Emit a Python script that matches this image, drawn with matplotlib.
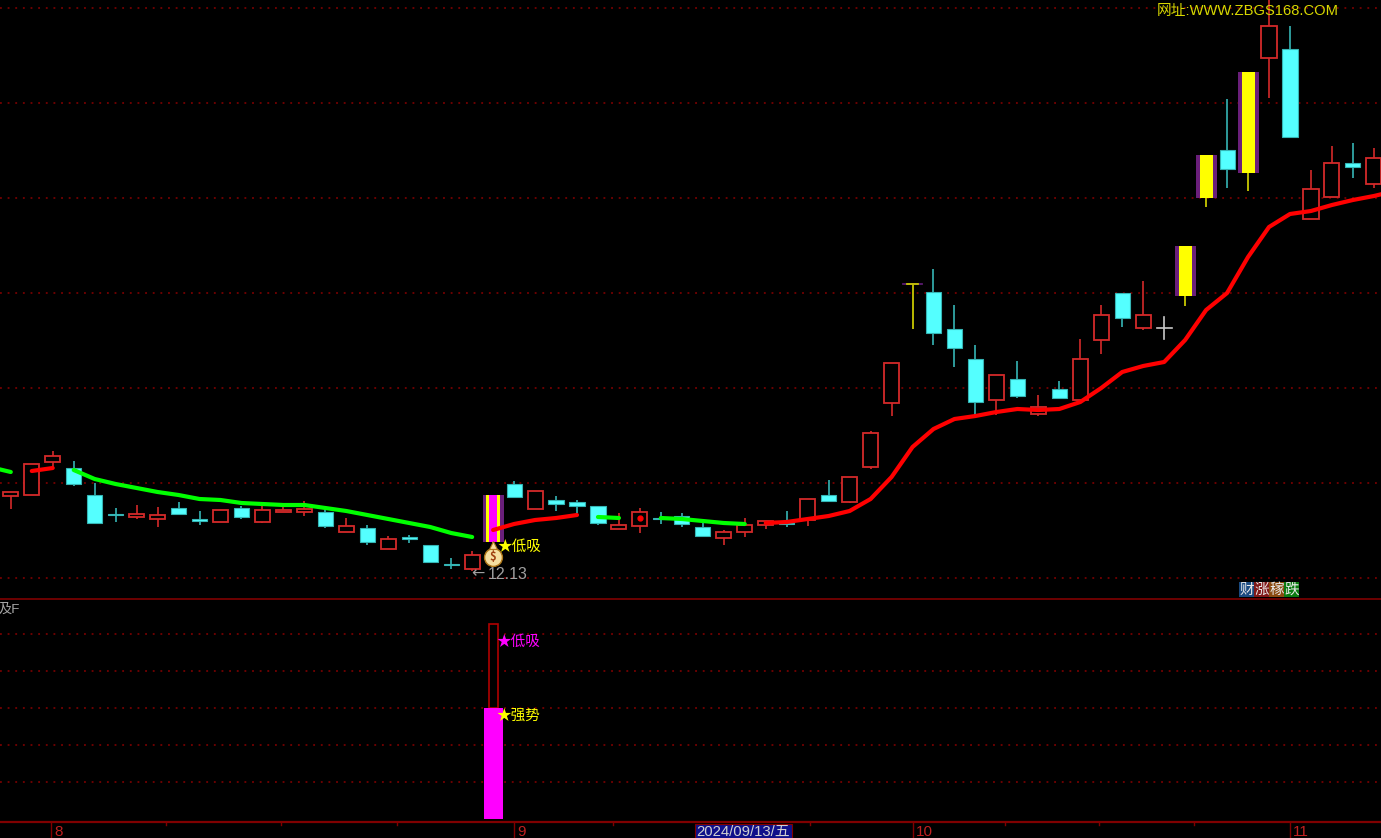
import matplotlib
matplotlib.use('Agg')
import numpy as np
import matplotlib.pyplot as plt

plt.rcParams['font.family'] = ['Noto Sans CJK SC', 'DejaVu Sans']

# candle kinds: r = hollow red, c = cyan, y = yellow signal, w = white doji, s = signal day
kinds = list('rrrcccrrcc' 'rcrrrcrcrc' 'ccrscrcccr' 'rcccrrrcrc' 'rrryccc' 'rcr' 'crrcrwyycy' 'rcrrcr')
body_top = [12.92,13.20,13.28,13.16,12.89,12.70,12.70,12.69,12.76,12.65,12.74,12.76,12.74,12.74,12.75,12.72,12.58,12.56,12.45,12.47,12.39,12.20,
            12.29,12.89,13.00,12.93,12.84,12.82,12.78,12.59,12.72,12.66,12.68,12.57,12.52,12.59,12.63,12.61,12.85,12.89,13.07,13.51,14.21,15.00,
            14.92,14.55,14.25,14.09,14.05,13.77,13.95,14.25,14.69,14.91,14.69,14.56,15.38,16.29,16.34,17.12,17.58,17.35,15.95,16.21,16.21,16.26]
body_bot = [12.88,12.89,13.22,13.00,12.61,12.69,12.67,12.65,12.70,12.63,12.62,12.67,12.62,12.72,12.72,12.58,12.52,12.42,12.35,12.45,12.22,12.19,
            12.15,12.42,12.87,12.75,12.80,12.78,12.61,12.55,12.58,12.65,12.60,12.48,12.46,12.52,12.59,12.60,12.64,12.83,12.82,13.17,13.81,15.00,
            14.51,14.36,13.82,13.84,13.88,13.70,13.86,13.84,14.44,14.66,14.56,14.55,14.88,15.86,16.15,16.11,17.26,16.47,15.65,15.87,16.17,16.00]
highs = [12.92,13.20,13.33,13.23,13.01,12.76,12.79,12.77,12.82,12.73,12.74,12.78,12.78,12.77,12.83,12.74,12.66,12.59,12.48,12.49,12.39,12.26,
         12.33,12.89,13.03,12.93,12.88,12.84,12.78,12.71,12.76,12.72,12.71,12.61,12.54,12.66,12.63,12.73,12.85,13.04,13.07,13.53,14.21,15.00,
         15.15,14.79,14.39,14.09,14.23,13.89,14.03,14.45,14.79,14.91,15.03,14.67,15.38,16.29,16.85,17.12,17.89,17.58,16.14,16.38,16.41,16.36]
lows = [12.75,12.89,13.17,12.98,12.61,12.62,12.65,12.57,12.70,12.59,12.62,12.65,12.61,12.72,12.68,12.56,12.52,12.39,12.35,12.41,12.21,12.15,
        12.13,12.39,12.87,12.75,12.73,12.71,12.59,12.55,12.51,12.60,12.57,12.48,12.39,12.47,12.55,12.57,12.58,12.83,12.81,13.15,13.68,14.55,
        14.39,14.17,13.69,13.69,13.86,13.68,13.85,13.84,14.30,14.57,14.54,14.45,14.78,15.77,15.96,15.93,16.86,16.47,15.65,15.87,16.06,15.96]

# trend line pieces: (start index, colour, values)
trend_pieces = [
    (-1, '#00ff00', [13.17,13.12]),
    (1, '#ff0000', [13.13,13.16]),
    (3, '#00ff00', [13.14,13.05,13.00,12.96,12.92,12.89,12.85,12.84,12.81,12.80,12.79,12.79,12.76,12.73,12.69,12.65,12.61,12.57,12.51,12.47]),
    (23, '#ff0000', [12.54,12.60,12.64,12.66,12.69]),
    (28, '#00ff00', [12.67,12.66]),
    (31, '#00ff00', [12.66,12.65,12.63,12.61,12.60]),
    (36, '#ff0000', [12.61,12.62,12.65,12.68,12.73,12.85,13.07,13.37,13.55,13.65,13.68,13.72,13.75,13.74,13.75,13.82,13.96,14.12,14.18,14.22,
                     14.44,14.74,14.91,15.27,15.57,15.70,15.73,15.79,15.84,15.88,15.93]),
]
trend_dot = (30, 12.66)

price_grid = [17.76,16.81,15.86,14.91,13.96,13.01,12.06]
signal_grid = [1,2,3,4,5]
signal_day = 23
signal_strong = 3
signal_low = 5.27
low_price = 12.13

month_ticks = [1.92, 24, 43, 61]
month_labels = ['8', '9', '10', '11']
minor_ticks = [7.4, 12.9, 18.4, 28.7, 38.1, 47.4, 51.9, 56.4]
cursor_label = '2024/09/13/五'

GRID = '#8a0000'
AXIS = '#800000'
RED = '#d42a2a'
WICK_C = '#35b5b5'
CYAN = '#54ffff'
dots = (0, (1.2, 3.8))

x0 = -0.515
x1 = 65.34
W, H = 1381, 838
fig = plt.figure(figsize=(W/100, H/100), dpi=100, facecolor='k')
ax = fig.add_axes([0, 1-599/H, 1, 599/H], facecolor='k')
ax2 = fig.add_axes([0, 1-822/H, 1, 223/H], facecolor='k')
ax3 = fig.add_axes([0, 0, 1, 16/H], facecolor='k')
for a in (ax, ax2, ax3):
    a.set_xlim(x0, x1)
    a.axis('off')
ax.set_ylim(11.85, 17.84)
ax2.set_ylim(-0.09, 5.94)
ax3.set_ylim(1, 0)

for p in price_grid:
    ax.axhline(p, color=GRID, lw=1.1, ls=dots, zorder=1)
for s in signal_grid:
    ax2.axhline(s, color=GRID, lw=1.1, ls=dots, zorder=1)

w = 0.36
for i, k in enumerate(kinds):
    t, b, h, l = body_top[i], body_bot[i], highs[i], lows[i]
    if k == 'r':
        ax.plot([i, i], [t, h], color=RED, lw=1.2, zorder=2, solid_capstyle='butt')
        ax.plot([i, i], [l, b], color=RED, lw=1.2, zorder=2, solid_capstyle='butt')
        ax.bar(i, t-b, w*2, b, facecolor='k', edgecolor=RED, lw=1.3, zorder=3)
    elif k == 'c':
        ax.plot([i, i], [l, h], color=WICK_C, lw=1.2, zorder=2, solid_capstyle='butt')
        ax.bar(i, t-b, w*2, b, facecolor=CYAN, edgecolor=WICK_C, lw=0.8, zorder=3)
    elif k == 'w':
        ax.plot([i, i], [l, h], color='#c8c8c8', lw=1.2, zorder=3)
        ax.plot([i-w, i+w], [t, t], color='#c8c8c8', lw=1.2, zorder=3)
    elif k == 'y':
        ax.plot([i, i], [l, b], color='#c8c800', lw=1.3, zorder=2, solid_capstyle='butt')
        if t == b:
            ax.plot([i-0.45, i+0.45], [t, t], color='#5a1a70', lw=1.3, zorder=3)
            ax.plot([i-0.28, i+0.28], [t, t], color='#c8c800', lw=1.3, zorder=4)
        else:
            ax.bar(i, t-b, 1.0, b, color='#6a1f7a', zorder=3)
            ax.bar(i, t-b, 0.62, b, color='#ffff00', zorder=4)
    elif k == 's':
        ax.plot([i, i], [l, b], color='#c8c800', lw=1.3, zorder=2, solid_capstyle='butt')
        ax.bar(i, t-b, 1.0, b, color='#6a1f7a', zorder=3)
        ax.bar(i, t-b, 0.68, b, color='#ffff00', zorder=4)
        ax.bar(i, t-b, 0.38, b, color='#ff00ff', zorder=5)

for start, col, vals in trend_pieces:
    ax.plot(np.arange(start, start+len(vals)), vals, color=col, lw=3, zorder=6, solid_capstyle='round')
ax.plot(trend_dot[0], trend_dot[1], 'o', color='#ff0000', ms=3.5, zorder=6)

# money bag under the signal candle
ax.scatter([signal_day], [12.275], s=165, color='#f6dfa0', edgecolor='#b07818', lw=1, zorder=7)
ax.scatter([signal_day], [12.39], s=32, marker='^', color='#f6dfa0', edgecolor='#b07818', lw=0.8, zorder=7)
ax.text(signal_day, 12.275, '$', color='#a04010', fontsize=8, fontweight='bold', ha='center', va='center', zorder=8)

ax.text(signal_day+0.2, 12.375, '★低吸', color='#ffff00', fontsize=10.5, va='center', ha='left', zorder=8)
ax.text(22-0.06, low_price-0.03, '←', color='#a0a0a0', fontsize=11.5, va='center', ha='left', zorder=8,
        family='DejaVu Sans')
ax.text(22.75, low_price-0.03, '%.2f' % low_price, color='#a0a0a0', fontsize=11.5, va='center', ha='left', zorder=8,
        family='Liberation Sans')
fig.text(1339/W, 1-11/H, '网址:WWW.ZBGS168.COM', color='#d8d800', fontsize=10.6,
         va='center', ha='right', family=['Liberation Sans', 'Noto Sans CJK SC'])

# small coloured badges at the lower right
badge_chars = ['财', '涨', '稼', '跌']
badge_cols = ['#1a4a80', '#801818', '#8a4a10', '#0a7a10']
for j, (c, bc) in enumerate(zip(badge_chars, badge_cols)):
    fig.text((1246.5+15*j)/W, 1-589.5/H, c, color='#e8e8e8', fontsize=10.5, ha='center', va='center',
             bbox=dict(boxstyle='square,pad=0.02', fc=bc, ec='none'))

ax.axhline(11.85, color=AXIS, lw=1.2, zorder=9, clip_on=False)

# lower panel
ax2.bar(signal_day, signal_low-signal_strong, 0.42, signal_strong, facecolor='k', edgecolor='#b00000', lw=1.2, zorder=2)
ax2.bar(signal_day, signal_strong, 0.9, 0, color='#ff00ff', zorder=3)
ax2.text(signal_day+0.18, 4.79, '★低吸', color='#ff00ff', fontsize=10.5, va='center', ha='left', zorder=4)
ax2.text(signal_day+0.14, 2.78, '★强势', color='#ffff00', fontsize=10.5, va='center', ha='left', zorder=4)
ax2.text(-0.56, 5.64, '及F', color='#a8a8a8', fontsize=9.5, va='center', ha='left',
         family=['Liberation Sans', 'Noto Sans CJK SC'])
ax2.axhline(-0.09, color=AXIS, lw=1.6, zorder=5, clip_on=False)

# date strip
for t, lab in zip(month_ticks, month_labels):
    ax3.plot([t, t], [0, 1], color=AXIS, lw=1)
    ax3.text(t+0.15, 0.65, lab, color='#c02020', fontsize=11, va='center', ha='left', family='Liberation Sans')
for t in minor_ticks:
    ax3.plot([t, t], [0, 0.2], color=AXIS, lw=1)
fig.text(743.5/W, 1-832/H, cursor_label, color='#d0d0d0', fontsize=10.7, ha='center', va='center',
         family=['Liberation Sans', 'Noto Sans CJK SC'],
         bbox=dict(boxstyle='square,pad=0.1', fc='#10108a', ec=AXIS, lw=0.8))

fig.savefig('out.png', dpi=100, facecolor='k')
